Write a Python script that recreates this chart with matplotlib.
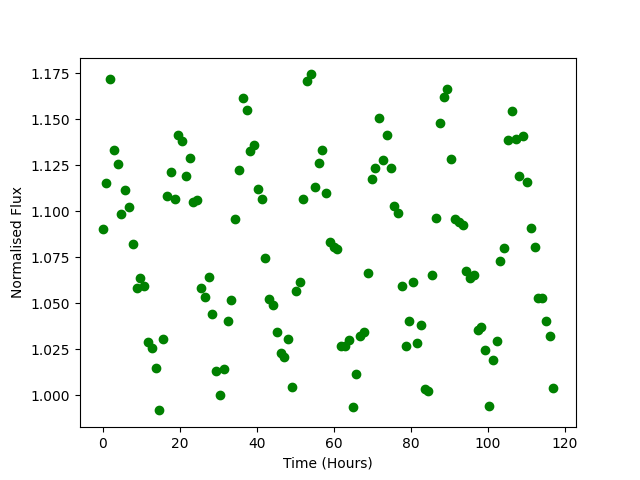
import numpy as np
import matplotlib
matplotlib.use("Agg")
import matplotlib.pyplot as plt

# normalised flux, one reading per sample
flux = [
    1.0906, 1.1152, 1.1721, 1.1335, 1.1255, 1.0988, 1.1118, 1.1026, 1.0824, 1.0585,
    1.0640, 1.0596, 1.0290, 1.0254, 1.0145, 0.9917, 1.0308, 1.1085, 1.1216, 1.1069,
    1.1418, 1.1382, 1.1194, 1.1292, 1.1049, 1.1060, 1.0582, 1.0536, 1.0645, 1.0439,
    1.0134, 1.0000, 1.0140, 1.0401, 1.0515, 1.0960, 1.1227, 1.1618, 1.1553, 1.1330,
    1.1363, 1.1123, 1.1067, 1.0748, 1.0522, 1.0488, 1.0341, 1.0228, 1.0205, 1.0308,
    1.0042, 1.0569, 1.0613, 1.1069, 1.1710, 1.1745, 1.1134, 1.1265, 1.1335, 1.1102,
    1.0835, 1.0806, 1.0797, 1.0266, 1.0266, 1.0299, 0.9935, 1.0113, 1.0322, 1.0342,
    1.0667, 1.1178, 1.1238, 1.1509, 1.1281, 1.1417, 1.1238, 1.1031, 1.0993, 1.0596,
    1.0265, 1.0401, 1.0613, 1.0281, 1.0384, 1.0033, 1.0022, 1.0656, 1.0966, 1.1482,
    1.1623, 1.1668, 1.1286, 1.0960, 1.0942, 1.0928, 1.0678, 1.0640, 1.0656, 1.0357,
    1.0372, 1.0243, 0.9939, 1.0189, 1.0292, 1.0732, 1.0803, 1.1390, 1.1547, 1.1395,
    1.1194, 1.1411, 1.1161, 1.0911, 1.0808, 1.0526, 1.0531, 1.0401, 1.0320, 1.0040,
]

# samples are evenly spaced, a little under an hour apart
dt = 0.983
time = np.arange(len(flux)) * dt

plt.figure(figsize=(6.4, 4.8), dpi=100)
plt.plot(time, flux, 'go')
plt.xlabel("Time (Hours)")
plt.ylabel("Normalised Flux")
plt.savefig("out.png")
